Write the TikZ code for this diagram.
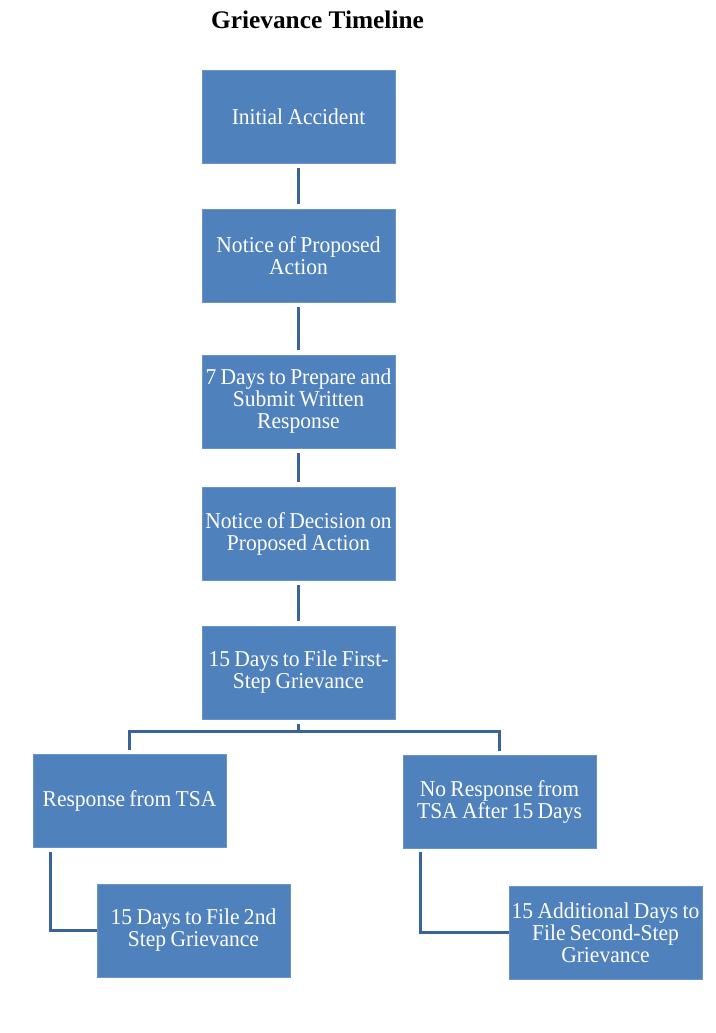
\documentclass[tikz,border=0pt]{standalone}
\usepackage{fontspec}
\setmainfont{Liberation Serif}
\newfontfamily\boxfont{Liberation Serif}[FakeStretch=0.95,WordSpace=0.8]
\usetikzlibrary{calc}
\definecolor{boxblue}{HTML}{4F81BD}
\definecolor{lineblue}{HTML}{3A6399}
\tikzset{
  stepbox/.style={fill=boxblue, draw=boxblue!85!white, line width=0.5pt, text=white,
    minimum width=144.75pt, minimum height=69.75pt, inner sep=0pt,
    align=center, font=\boxfont\fontsize{17}{16.5}\selectfont},
  conn/.style={draw=lineblue, line width=2.4pt},
  gap/.style={shorten <=3.75pt, shorten >=3.75pt}
}
\begin{document}
\begin{tikzpicture}[x=0.75pt,y=-0.75pt]
\useasboundingbox (0,0) rectangle (716,1033);
\node[font=\bfseries\fontsize{19}{22}\selectfont] (title) at (317.5,20) {Grievance Timeline};
\node[stepbox] (a) at (298.5,116.5) {Initial Accident};
\node[stepbox] (b) at (298.5,255.5) {Notice of Proposed\\Action};
\node[stepbox] (c) at (298.5,401.5) {7 Days to Prepare and\\Submit Written\\Response};
\node[stepbox] (d) at (298.5,533.5) {Notice of Decision on\\Proposed Action};
\node[stepbox] (e) at (298.5,672.5) {15 Days to File First-\\Step Grievance};
\node[stepbox] (f) at (129.5,800.5) {Response from TSA};
\node[stepbox] (g) at (499.5,801.5) {No Response from\\TSA After 15 Days};
\node[stepbox] (h) at (193.5,930.5) {15 Days to File 2nd\\Step Grievance};
\node[stepbox] (i) at (605.5,932.5) {15 Additional Days to\\File Second-Step\\Grievance};
\draw[conn,gap] (a.south) -- (b.north);
\draw[conn,gap] (b.south) -- (c.north);
\draw[conn,gap] (c.south) -- (d.north);
\draw[conn,gap] (d.south) -- (e.north);
\coordinate (br) at (298.5,731.5);
\draw[conn] ($(e.south)+(0,5)$) -- (br) -| ($(f.north)+(0,-4)$);
\draw[conn] (br) -| ($(g.north)+(0,-4)$);
\draw[conn] ($(f.south west)+(18,5)$) |- (h.west);
\draw[conn] ($(g.south west)+(18,4)$) |- (i.west);
\end{tikzpicture}
\end{document}
